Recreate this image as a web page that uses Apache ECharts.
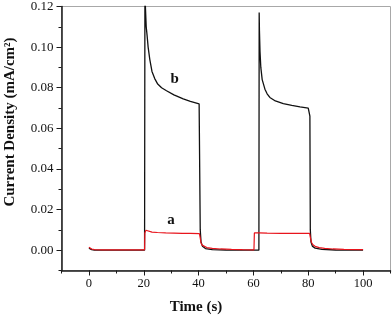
<!DOCTYPE html>
<html>
<head>
<meta charset="utf-8">
<script src="https://cdn.jsdelivr.net/npm/echarts@6/dist/echarts.min.js"></script>
<style>html,body{margin:0;padding:0;background:#fff;}#c{width:392px;height:317px;}</style>
</head>
<body>
<div id="c"></div>
<script>
// Curve b (black)
var timeB = [0,0.5,1,2,5,10,15,20.3,20.4,20.45,20.6,20.9,21.2,21.6,22.2,23,24,25,26.5,28.3,31,34.4,37,40.2,40.45,40.6,40.9,41.4,42.5,45,50,55,62.0,62.1,62.2,62.4,62.7,63.2,64.2,65,66,68,70.9,74,77,80,80.4,80.6,80.75,81,81.5,82.5,85,90,100];
var currentB = [0.0010,0.0006,0.0003,0.0001,0,0,0,0,0,0.15,0.12,0.11,0.106,0.100,0.094,0.088,0.0845,0.082,0.080,0.0785,0.0765,0.0745,0.0733,0.0720,0.0712,0.010,0.004,0.002,0.0008,0.0003,0.0001,0,0,0.117,0.108,0.098,0.090,0.084,0.0793,0.077,0.0752,0.0735,0.0722,0.0713,0.0706,0.0700,0.0695,0.066,0.010,0.004,0.002,0.001,0.0004,0.0001,0];
// Curve a (red)
var timeA = [0,0.5,1,2,5,10,20.3,20.4,20.8,21.5,23,25,28,31,34,37,40.3,40.6,40.9,41.3,42,43,45,48,52,56,60.2,60.35,60.6,62,65,70,75,80.5,80.8,81.2,81.7,82.5,84,86,89,93,100];
var currentA = [0.0015,0.0010,0.0006,0.0003,0.0002,0.0002,0.0002,0.0085,0.0098,0.0093,0.0089,0.0087,0.0085,0.0084,0.0083,0.0083,0.0082,0.0060,0.0035,0.0025,0.0018,0.0013,0.0009,0.0006,0.0004,0.0003,0.0002,0.0085,0.0088,0.0085,0.0084,0.0083,0.0083,0.0083,0.0060,0.0038,0.0027,0.0019,0.0013,0.0009,0.0006,0.0004,0.0003];
var xTickLabels = [0,20,40,60,80,100];
var yTickLabels = [0,0.02,0.04,0.06,0.08,0.10,0.12];
var curveLabels = ['b','a'];
var labelAnchors = [[31.3,0.084],[29.9,0.0148]];

function pairs(t, v){ return t.map(function(x,i){ return [x, v[i]]; }); }

var chart = echarts.init(document.getElementById('c'), null, {renderer:'canvas'});
var serif = 'Liberation Serif, Times New Roman, serif';
var axisColor = '#1a1a1a';
var option = {
  animation:false,
  backgroundColor:'#fff',
  grid:{left:61.5, right:1.5, top:5.5, bottom:46.5, show:true, borderColor:'#a8a8a8', borderWidth:1, backgroundColor:'transparent'},
  xAxis:[
    {type:'value', min:-10, max:110, interval:10, position:'bottom',
     axisLine:{show:true, onZero:false, lineStyle:{color:axisColor, width:1.5}},
     axisTick:{show:true, inside:false, length:3, lineStyle:{color:axisColor, width:1}},
     axisLabel:{show:true, customValues:xTickLabels, margin:7, fontFamily:serif, fontSize:12.5, color:'#111'},
     splitLine:{show:false}},
    {type:'value', min:-10, max:110, position:'bottom', offset:0,
     axisLine:{show:false, onZero:false},
     axisTick:{show:true, inside:false, length:5, customValues:xTickLabels, lineStyle:{color:axisColor, width:1}},
     axisLabel:{show:false}, splitLine:{show:false}}
  ],
  yAxis:[
    {type:'value', min:-0.01, max:0.12, interval:0.01, position:'left',
     axisLine:{show:true, onZero:false, lineStyle:{color:axisColor, width:1.5}},
     axisTick:{show:true, inside:false, length:3, lineStyle:{color:axisColor, width:1}},
     axisLabel:{show:true, customValues:yTickLabels, margin:8, fontFamily:serif, fontSize:13, color:'#111',
       formatter:function(v){ return v.toFixed(2); }},
     splitLine:{show:false}},
    {type:'value', min:-0.01, max:0.12, position:'left', offset:0,
     axisLine:{show:false, onZero:false},
     axisTick:{show:true, inside:false, length:5, customValues:yTickLabels, lineStyle:{color:axisColor, width:1}},
     axisLabel:{show:false}, splitLine:{show:false}}
  ],
  series:[
    {type:'line', name:'b', xAxisIndex:0, yAxisIndex:0, data:pairs(timeB,currentB), showSymbol:false, symbol:'none', clip:true,
     lineStyle:{color:'#111', width:1.3}, smooth:false},
    {type:'line', name:'a', xAxisIndex:0, yAxisIndex:0, data:pairs(timeA,currentA), showSymbol:false, symbol:'none', clip:true,
     lineStyle:{color:'#e8141c', width:1.2}, smooth:false}
  ],
  graphic:[
    {type:'text', left:'center', x:0, style:{text:'Time (s)', font:'bold 15px ' + serif, fill:'#111', textAlign:'center', textVerticalAlign:'middle'}, position:[165.5,307.5]},
    {type:'text', rotation:Math.PI/2, position:[10,122], style:{text:'Current Density (mA/cm²)', font:'bold 15px ' + serif, fill:'#111', textAlign:'center', textVerticalAlign:'middle'}}
  ]
};
chart.setOption(option);
// curve labels placed from data coordinates
var extra = curveLabels.map(function(t,i){
  var p = chart.convertToPixel({xAxisIndex:0, yAxisIndex:0}, labelAnchors[i]);
  return {type:'text', position:p, style:{text:t, font:'bold 15px ' + serif, fill:'#111', textAlign:'center', textVerticalAlign:'middle'}};
});
option.graphic = option.graphic.concat(extra);
chart.setOption({graphic: option.graphic});
</script>
</body>
</html>
